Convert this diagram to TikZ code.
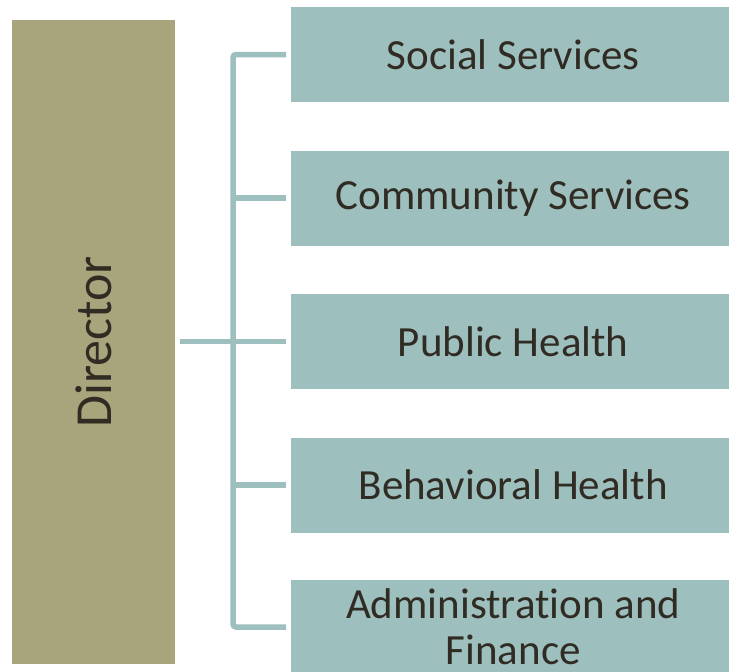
\documentclass[tikz,border=0pt]{standalone}
\usepackage{fontspec}
\setmainfont[Ligatures=NoCommon]{Carlito}
\definecolor{unitfill}{HTML}{9DBFBE}
\definecolor{headfill}{HTML}{A8A47B}
\definecolor{labeltext}{HTML}{302B23}
\tikzset{
  unit/.style={fill=unitfill, minimum width=444pt, minimum height=95pt,
    inner sep=0pt, text=labeltext, font=\fontsize{43}{46}\selectfont,
    align=center, anchor=west},
  head/.style={fill=headfill, minimum width=163pt, minimum height=644pt,
    inner sep=0pt, text=labeltext},
  conn/.style={draw=unitfill, line width=5.5pt, rounded corners=3pt}
}
\begin{document}
\begin{tikzpicture}[x=1pt,y=-1pt]
  \useasboundingbox (0,0) rectangle (729,672);
  \clip (0,0) rectangle (729,672);
  % head of the department
  \node[head] (dir) at (93.5,342) {};
  \node[rotate=90, text=labeltext, font=\fontsize{52}{56}\selectfont] (dirlabel) at (dir.center) {Director};
  % divisions
  \node[unit] (b1) at (291,54.5) {Social Services};
  \node[unit] (b2) at (291,198) {Community Services};
  \node[unit] (b3) at (291,341.5) {Public Health};
  \node[unit] (b4) at (291,485) {Behavioral Health};
  \node[unit] (b5) at (291,627) {Administration and\\Finance};
  % connectors
  \draw[conn] ([xshift=-5pt]b1.west) -- ++(-53,0) |- ([xshift=-5pt]b5.west);
  \draw[conn] ([xshift=-5pt]b2.west) -- ++(-53,0);
  \draw[conn] ([xshift=-5pt]b4.west) -- ++(-53,0);
  \draw[conn] ([xshift=5pt]dir.east |- b3.west) -- ([xshift=-5pt]b3.west);
\end{tikzpicture}
\end{document}
